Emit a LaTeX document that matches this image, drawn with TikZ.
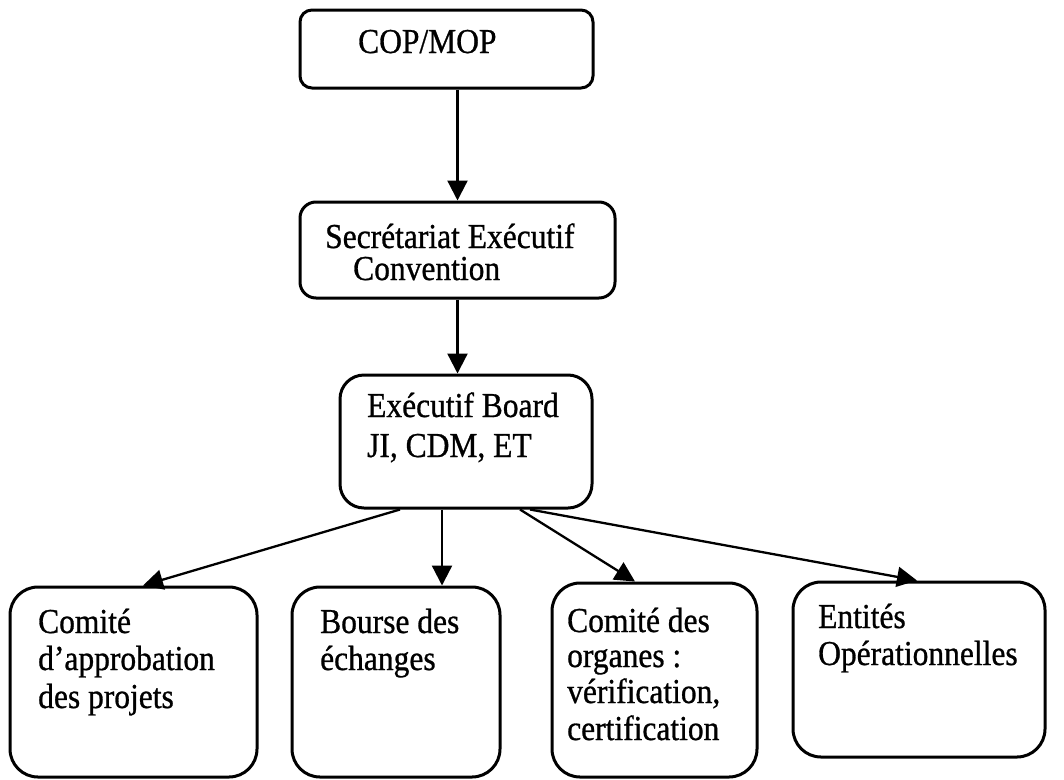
\documentclass[tikz,border=0pt]{standalone}
\usepackage{fontspec}
\setmainfont{Liberation Serif}[FakeStretch=0.9,FakeBold=0.8]
\usetikzlibrary{arrows.meta}
\begin{document}
\begin{tikzpicture}[x=1pt,y=-1pt,
  box/.style={draw,line width=3pt,rounded corners=#1,inner sep=0pt},
  lbl/.style={anchor=base west,inner sep=0pt,font=\fontsize{35}{42}\selectfont},
  arr/.style={line width=2.3pt,-{Triangle[width=20pt,length=20pt]}}]
\useasboundingbox (0,0) rectangle (1064,779);
% boxes
\node[box=12pt,minimum width=293pt,minimum height=78pt] (cop) at (446.5,49) {};
\node[box=16pt,minimum width=315pt,minimum height=96pt] (sec) at (457.5,250) {};
\node[box=24pt,minimum width=252pt,minimum height=133pt] (board) at (466,441.5) {};
\node[box=28pt,minimum width=247pt,minimum height=190pt] (bA) at (133.5,682) {};
\node[box=28pt,minimum width=208pt,minimum height=190pt] (bB) at (396,682) {};
\node[box=28pt,minimum width=205pt,minimum height=194pt] (bC) at (654.5,680) {};
\node[box=28pt,minimum width=252pt,minimum height=175pt] (bD) at (919,669.5) {};
% texts
\node[lbl] (t1) at (358,53) {COP/MOP};
\node[lbl] (t2a) at (325,248) {Secrétariat Exécutif};
\node[lbl] (t2b) at (353,280) {Convention};
\node[lbl] (t3a) at (367,417) {Exécutif Board};
\node[lbl] (t3b) at (367,457) {JI, CDM, ET};
\node[lbl] (tAa) at (38,633) {Comité};
\node[lbl] (tAb) at (38,670) {d’approbation};
\node[lbl] (tAc) at (38,708) {des projets};
\node[lbl] (tBa) at (320,633) {Bourse des};
\node[lbl] (tBb) at (320,670) {échanges};
\node[lbl] (tCa) at (567,632) {Comité des};
\node[lbl] (tCb) at (567,667) {organes :};
\node[lbl] (tCc) at (567,703) {vérification,};
\node[lbl] (tCd) at (567,740) {certification};
\node[lbl] (tDa) at (818,628) {Entités};
\node[lbl] (tDb) at (818,665) {Opérationnelles};
% arrows
\draw[arr] (cop.south -| sec.north) -- (sec.north);
\draw[arr] (sec.south) -- (sec.south |- board.north);
\draw[arr] ([xshift=-66pt]board.south) -- ([xshift=9.5pt]bA.north);
\draw[arr] ([xshift=-24pt]board.south) -- ([xshift=46pt]bB.north);
\draw[arr] ([xshift=54pt]board.south) -- ([xshift=-19.5pt]bC.north);
\draw[arr] ([xshift=64pt]board.south) -- ([xshift=-2pt]bD.north);
\end{tikzpicture}
\end{document}
